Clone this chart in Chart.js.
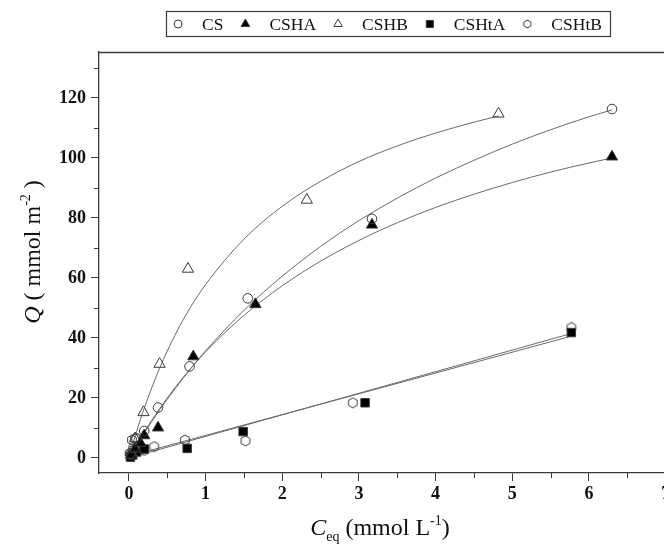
<!DOCTYPE html>
<html><head><meta charset="utf-8">
<script src="https://cdn.jsdelivr.net/npm/chart.js@4.4.1/dist/chart.umd.min.js"></script>
<style>
html,body{margin:0;padding:0;overflow:hidden;background:#fff;width:664px;height:548px}
#wrap{width:720px;height:548px;position:relative}
</style>
</head><body><div id="wrap"><canvas id="c" width="720" height="548"></canvas></div>
<script>
// ---------- data ----------
const seriesNames = ['CS', 'CSHA', 'CSHB', 'CSHtA', 'CSHtB'];

const csX    = [0.02, 0.06, 0.10, 0.20, 0.38, 0.79, 1.55, 3.17, 6.30];
const csY    = [1.5, 3.5, 6.5, 9.0, 16.8, 30.5, 53.2, 79.7, 116.3];
const cshaX  = [0.03, 0.08, 0.15, 0.20, 0.38, 0.84, 1.65, 3.17, 6.30];
const cshaY  = [1.0, 3.0, 5.0, 7.5, 10.1, 33.8, 51.2, 77.7, 100.4];
const cshbX  = [0.03, 0.08, 0.19, 0.40, 0.77, 2.32, 4.82];
const cshbY  = [2.0, 6.5, 15.2, 31.3, 63.0, 86.0, 114.7];
const cshtaX = [0.02, 0.05, 0.10, 0.20, 0.76, 1.49, 3.08, 5.77];
const cshtaY = [0.3, 1.0, 2.0, 3.0, 3.2, 8.8, 18.4, 41.8];
const cshtbX = [0.01, 0.04, 0.08, 0.20, 0.33, 0.73, 1.52, 2.92, 5.77];
const cshtbY = [1.5, 6.0, 6.5, 2.5, 3.8, 6.0, 5.7, 18.4, 43.5];

// fitted curves
const csFitX    = [0, 0.1, 0.2, 0.4, 0.6, 0.8, 1.0, 1.5, 2.0, 2.5, 3.0, 3.5, 4.0, 4.5, 5.0, 5.5, 6.0, 6.3];
const csFitY    = [0, 4.2, 8.3, 16.0, 23.0, 29.6, 35.7, 49.2, 60.6, 70.5, 79.1, 86.6, 93.3, 99.2, 104.6, 109.4, 113.7, 116.0];
const cshaFitX  = [0, 0.1, 0.2, 0.4, 0.6, 0.8, 1.0, 1.5, 2.0, 2.5, 3.0, 3.5, 4.0, 4.5, 5.0, 5.5, 6.0, 6.3];
const cshaFitY  = [0, 4.5, 8.7, 16.4, 23.4, 29.7, 35.4, 47.5, 57.4, 65.6, 72.5, 78.4, 83.5, 87.9, 91.8, 95.3, 98.3, 100.0];
const cshbFitX  = [0, 0.1, 0.2, 0.4, 0.6, 0.8, 1.0, 1.5, 2.0, 2.5, 3.0, 3.5, 4.0, 4.5, 4.82];
const cshbFitY  = [0, 8.8, 16.6, 29.9, 40.9, 50.1, 57.8, 72.9, 83.9, 92.2, 98.8, 104.0, 108.3, 111.9, 114.0];
const cshtaFitX = [0, 5.77];
const cshtaFitY = [0.0, 41.5];
const cshtbFitX = [0, 5.77];
const cshtbFitY = [0.6, 40.6];

const xTicks = [0, 1, 2, 3, 4, 5, 6, 7];
const xMinor = [0.5, 1.5, 2.5, 3.5, 4.5, 5.5, 6.5, 7.5];
const yTicks = [0, 20, 40, 60, 80, 100, 120];
const yMinor = [10, 30, 50, 70, 90, 110, 130];

// ---------- styles ----------
const INK = '#3a3a3a';
const LINE = '#6a6a6a';
const SERIF = '"Liberation Serif", "Times New Roman", serif';

function hexagonCanvas(size, stroke) {
  const c = document.createElement('canvas');
  c.width = size; c.height = size;
  const g = c.getContext('2d');
  const r = size / 2 - 1, cx = size / 2, cy = size / 2;
  g.beginPath();
  for (let i = 0; i < 6; i++) {
    const a = Math.PI / 2 + i * Math.PI / 3;
    const px = cx + r * Math.cos(a), py = cy - r * Math.sin(a);
    if (i === 0) g.moveTo(px, py); else g.lineTo(px, py);
  }
  g.closePath();
  g.strokeStyle = stroke; g.lineWidth = 1; g.stroke();
  return c;
}
const hexImg = hexagonCanvas(12, INK);
const hexImgSmall = hexagonCanvas(10, INK);

const markerDefs = [
  { pointStyle: 'circle',   radius: 4.8, fill: 'rgba(0,0,0,0)' },
  { pointStyle: 'triangle', radius: 6.5, fill: '#000' },
  { pointStyle: 'triangle', radius: 6.5, fill: 'rgba(0,0,0,0)' },
  { pointStyle: 'rect',     radius: 6.0, fill: '#000' },
  { pointStyle: hexImg,     radius: 6.0, fill: 'rgba(0,0,0,0)' },
];
const legendMarkers = [
  { pointStyle: 'circle',   radius: 4.0 },
  { pointStyle: 'triangle', radius: 5.0 },
  { pointStyle: 'triangle', radius: 5.0 },
  { pointStyle: 'rect',     radius: 5.0 },
  { pointStyle: hexImgSmall, radius: 5.0 },
];

const pts = (xs, ys) => xs.map((v, i) => ({ x: v, y: ys[i] }));
const seriesData = [pts(csX, csY), pts(cshaX, cshaY), pts(cshbX, cshbY), pts(cshtaX, cshtaY), pts(cshtbX, cshtbY)];
const fitData = [pts(csFitX, csFitY), pts(cshaFitX, cshaFitY), pts(cshbFitX, cshbFitY), pts(cshtaFitX, cshtaFitY), pts(cshtbFitX, cshtbFitY)];

const datasets = [];
fitData.forEach((d, i) => {
  datasets.push({
    label: seriesNames[i] + ' fit', data: d, showLine: true, pointRadius: 0,
    borderColor: LINE, borderWidth: 1, fill: false,
    cubicInterpolationMode: 'monotone', order: 2
  });
});
seriesData.forEach((d, i) => {
  const m = markerDefs[i];
  datasets.push({
    label: seriesNames[i], data: d, showLine: false,
    pointStyle: m.pointStyle, pointRadius: m.radius,
    pointBackgroundColor: m.fill, pointBorderColor: INK, pointBorderWidth: 1,
    order: 1
  });
});

// ---------- extra drawing ----------
const decor = {
  id: 'decor',
  afterDraw(chart) {
    const ctx = chart.ctx, a = chart.chartArea;
    const sx = chart.scales.x, sy = chart.scales.y;
    ctx.save();
    // top frame
    ctx.strokeStyle = INK; ctx.lineWidth = 1.3;
    ctx.beginPath(); ctx.moveTo(a.left, a.top + 0.5); ctx.lineTo(chart.width, a.top + 0.5); ctx.stroke();
    // minor ticks
    ctx.lineWidth = 1;
    ctx.beginPath();
    xMinor.forEach(v => {
      const p = Math.round(sx.getPixelForValue(v)) + 0.5;
      ctx.moveTo(p, a.bottom); ctx.lineTo(p, a.bottom + 5);
    });
    yMinor.forEach(v => {
      const p = Math.round(sy.getPixelForValue(v)) + 0.5;
      ctx.moveTo(a.left, p); ctx.lineTo(a.left - 5, p);
    });
    ctx.stroke();

    // y title: Q ( mmol m-2 )
    ctx.fillStyle = '#111';
    ctx.save();
    ctx.translate(40, 252);
    ctx.rotate(-Math.PI / 2);
    ctx.textBaseline = 'alphabetic';
    const big = 24, small = 14;
    const parts = [
      { t: 'Q', f: `italic ${big}px ${SERIF}`, dy: 0 },
      { t: ' ( mmol m', f: `${big}px ${SERIF}`, dy: 0 },
      { t: '-2', f: `${small}px ${SERIF}`, dy: -10 },
      { t: ' )', f: `${big}px ${SERIF}`, dy: 0 },
    ];
    let w = 0;
    parts.forEach(p => { ctx.font = p.f; p.w = ctx.measureText(p.t).width; w += p.w; });
    let cx = -w / 2;
    parts.forEach(p => { ctx.font = p.f; ctx.fillText(p.t, cx, p.dy); cx += p.w; });
    ctx.restore();

    // x title: C_eq (mmol L-1)
    const xparts = [
      { t: 'C', f: `italic ${big}px ${SERIF}`, dy: 0 },
      { t: 'eq', f: `${small}px ${SERIF}`, dy: 6 },
      { t: ' (mmol L', f: `${big}px ${SERIF}`, dy: 0 },
      { t: '-1', f: `${small}px ${SERIF}`, dy: -10 },
      { t: ')', f: `${big}px ${SERIF}`, dy: 0 },
    ];
    w = 0;
    xparts.forEach(p => { ctx.font = p.f; p.w = ctx.measureText(p.t).width; w += p.w; });
    cx = 380 - w / 2;
    const base = 535;
    xparts.forEach(p => { ctx.font = p.f; ctx.fillText(p.t, cx, base + p.dy); cx += p.w; });

    // legend
    ctx.font = `17.5px ${SERIF}`;
    const gapMT = 24, gapTM = 22, marginL = 12, marginR = 8;
    let total = marginL + marginR;
    seriesNames.forEach((n, i) => { total += gapMT + ctx.measureText(n).width + (i < 4 ? gapTM : 0); });
    const L = { x1: 610, y0: 11, y1: 36 };
    L.x0 = Math.round(L.x1 - total);
    ctx.strokeStyle = INK; ctx.lineWidth = 1.2;
    ctx.strokeRect(L.x0 + 0.5, L.y0 + 0.5, L.x1 - L.x0, L.y1 - L.y0);
    ctx.textBaseline = 'middle';
    const midY = (L.y0 + L.y1) / 2 + 0.5;
    let lx = L.x0 + marginL;
    seriesNames.forEach((name, i) => {
      const m = legendMarkers[i];
      ctx.save();
      ctx.fillStyle = markerDefs[i].fill; ctx.strokeStyle = INK; ctx.lineWidth = 1;
      Chart.helpers.drawPoint(ctx, { pointStyle: m.pointStyle, radius: m.radius, rotation: 0, borderWidth: 1 }, lx, midY);
      ctx.restore();
      ctx.fillStyle = '#111';
      ctx.fillText(name, lx + gapMT, midY + 1);
      lx += gapMT + ctx.measureText(name).width + gapTM;
    });
    ctx.restore();
  }
};

new Chart(document.getElementById('c'), {
  type: 'scatter',
  data: { datasets },
  options: {
    responsive: false, animation: false,
    layout: { padding: { left: 0, top: 52, right: 16, bottom: 0 } },
    plugins: { legend: { display: false }, tooltip: { enabled: false } },
    scales: {
      x: {
        type: 'linear', min: -0.39, max: 7.5,
        afterBuildTicks: s => { s.ticks = xTicks.map(v => ({ value: v })); },
        afterFit: s => { s.height = 75; },
        grid: { drawOnChartArea: false, tickLength: 8, color: INK, tickColor: INK, tickWidth: 1 },
        border: { color: INK, width: 1.3 },
        ticks: { font: { family: SERIF, size: 18, weight: 'bold' }, color: '#111', padding: 3, maxRotation: 0, autoSkip: false }
      },
      y: {
        type: 'linear', min: -5, max: 135.3,
        afterBuildTicks: s => { s.ticks = yTicks.map(v => ({ value: v })); },
        afterFit: s => { s.width = 99; },
        grid: { drawOnChartArea: false, tickLength: 8, color: INK, tickColor: INK, tickWidth: 1 },
        border: { color: INK, width: 1.3 },
        ticks: { font: { family: SERIF, size: 18, weight: 'bold' }, color: '#111', padding: 5, autoSkip: false }
      }
    }
  },
  plugins: [decor]
});
</script>
</body></html>
